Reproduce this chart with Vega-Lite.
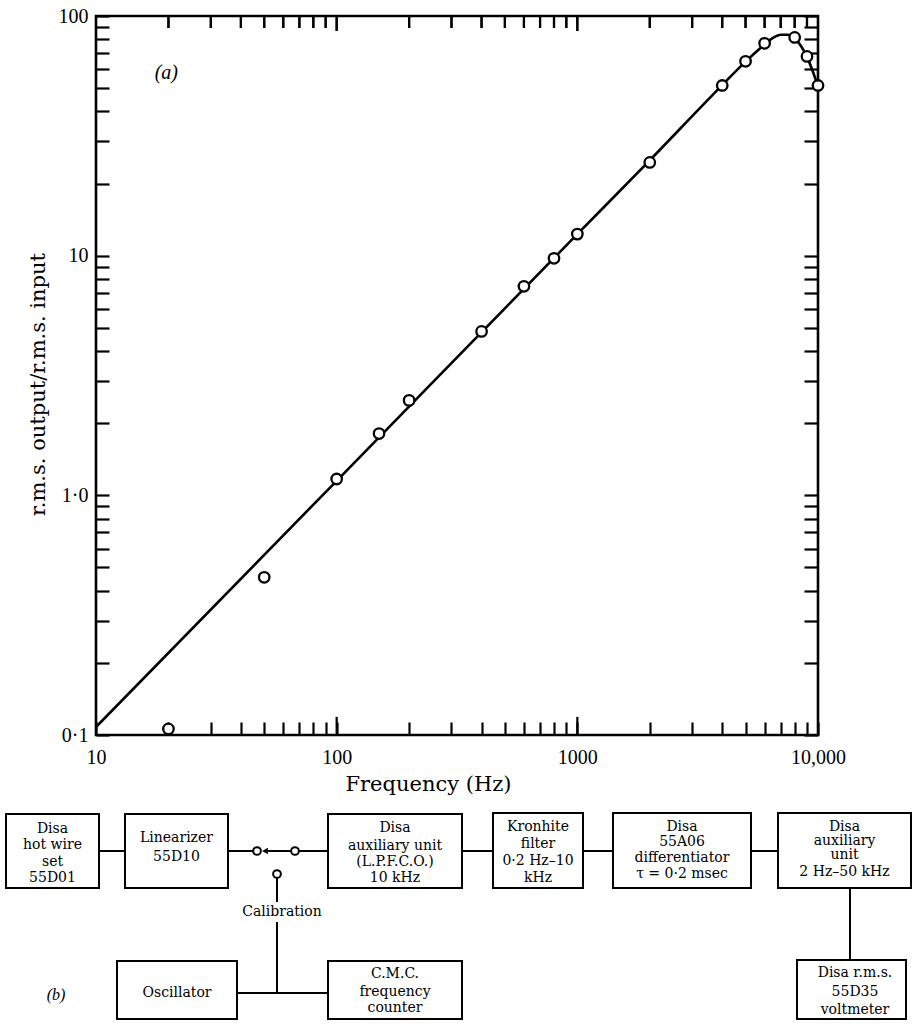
{
  "$schema": "https://vega.github.io/schema/vega-lite/v6.json",
  "background": "white",
  "padding": {"left": 4, "top": 6, "right": 0, "bottom": 0},
  "width": 722,
  "height": 719,
  "config": {
    "view": {"stroke": "black", "strokeWidth": 2.6},
    "font": "DejaVu Serif",
    "axis": {
      "grid": false,
      "domain": false,
      "ticks": true,
      "tickColor": "black",
      "tickWidth": 2.2,
      "labelColor": "black",
      "labelFont": "Liberation Serif",
      "labelFontSize": 20,
      "labelOverlap": false,
      "labelFlush": false,
      "labelBound": false,
      "titleColor": "black",
      "titleFont": "DejaVu Serif",
      "titleFontWeight": "normal",
      "titleFontSize": 21
    }
  },
  "datasets": {
    "curve": [
      {"frequency": 10, "ratio": 0.108},
      {"frequency": 100, "ratio": 1.15},
      {"frequency": 1000, "ratio": 12.3},
      {"frequency": 2000, "ratio": 25.0},
      {"frequency": 4000, "ratio": 51.5},
      {"frequency": 5000, "ratio": 64.5},
      {"frequency": 6000, "ratio": 76},
      {"frequency": 6500, "ratio": 81},
      {"frequency": 7000, "ratio": 83.5},
      {"frequency": 7500, "ratio": 83.5},
      {"frequency": 8000, "ratio": 80.5},
      {"frequency": 8500, "ratio": 75},
      {"frequency": 9000, "ratio": 67.5},
      {"frequency": 9500, "ratio": 59},
      {"frequency": 10000, "ratio": 51}
    ],
    "measured": [
      {"frequency": 20, "ratio": 0.106},
      {"frequency": 50, "ratio": 0.455},
      {"frequency": 100, "ratio": 1.17},
      {"frequency": 150, "ratio": 1.81},
      {"frequency": 200, "ratio": 2.49},
      {"frequency": 400, "ratio": 4.83},
      {"frequency": 600, "ratio": 7.45},
      {"frequency": 800, "ratio": 9.75},
      {"frequency": 1000, "ratio": 12.3},
      {"frequency": 2000, "ratio": 24.5},
      {"frequency": 4000, "ratio": 51.3},
      {"frequency": 5000, "ratio": 64.7},
      {"frequency": 6000, "ratio": 76.9},
      {"frequency": 8000, "ratio": 81.4},
      {"frequency": 9000, "ratio": 67.8},
      {"frequency": 10000, "ratio": 51.3}
    ],
    "minorTicks": [
      {"frequency": 20}, {"frequency": 30}, {"frequency": 40}, {"frequency": 50}, {"frequency": 60}, {"frequency": 70}, {"frequency": 80}, {"frequency": 90},
      {"frequency": 200}, {"frequency": 300}, {"frequency": 400}, {"frequency": 500}, {"frequency": 600}, {"frequency": 700}, {"frequency": 800}, {"frequency": 900},
      {"frequency": 2000}, {"frequency": 3000}, {"frequency": 4000}, {"frequency": 5000}, {"frequency": 6000}, {"frequency": 7000}, {"frequency": 8000}, {"frequency": 9000}
    ],
    "decadeTicks": [
      {"frequency": 100}, {"frequency": 1000}
    ],
    "boxes": [
      {"name": "hot wire set", "x0": 0.8, "x1": 19.4, "y0": 3.8, "y1": 18.6},
      {"name": "linearizer", "x0": 24.6, "x1": 45.2, "y0": 3.8, "y1": 18.6},
      {"name": "lpfco", "x0": 65.2, "x1": 92, "y0": 3.8, "y1": 18.6},
      {"name": "kronhite", "x0": 98.2, "x1": 116.2, "y0": 3.6, "y1": 18.6},
      {"name": "differentiator", "x0": 122.2, "x1": 149.8, "y0": 3.6, "y1": 18.6},
      {"name": "auxiliary", "x0": 155.2, "x1": 181.8, "y0": 3.6, "y1": 18.6},
      {"name": "voltmeter", "x0": 159, "x1": 180.8, "y0": 33, "y1": 44.8},
      {"name": "oscillator", "x0": 23, "x1": 47, "y0": 33.2, "y1": 44.8},
      {"name": "counter", "x0": 65.2, "x1": 92, "y0": 33.2, "y1": 44.8}
    ],
    "wires": [
      {"x0": 19.4, "x1": 24.6, "y0": 11.2, "y1": 11.2},
      {"x0": 45.2, "x1": 50.2, "y0": 11.2, "y1": 11.2},
      {"x0": 53.2, "x1": 57.8, "y0": 11.2, "y1": 11.2},
      {"x0": 59.4, "x1": 65.2, "y0": 11.2, "y1": 11.2},
      {"x0": 55, "x1": 55, "y0": 16.6, "y1": 21.4},
      {"x0": 55, "x1": 55, "y0": 25.4, "y1": 39.6},
      {"x0": 47, "x1": 65.2, "y0": 39.6, "y1": 39.6},
      {"x0": 92, "x1": 98.2, "y0": 11.2, "y1": 11.2},
      {"x0": 116.2, "x1": 122.2, "y0": 11.2, "y1": 11.2},
      {"x0": 149.8, "x1": 155.2, "y0": 11.2, "y1": 11.2},
      {"x0": 169.6, "x1": 169.6, "y0": 18.6, "y1": 33}
    ],
    "contacts": [
      {"x": 51, "y": 11.2},
      {"x": 58.6, "y": 11.2},
      {"x": 55, "y": 15.8}
    ],
    "arrow": [
      {"x": 52.6, "y": 11.2}
    ],
    "labels": [
      {"x": 10.1, "y": 6.8, "text": "Disa"},
      {"x": 10.1, "y": 10.0, "text": "hot wire"},
      {"x": 10.1, "y": 13.4, "text": "set"},
      {"x": 10.1, "y": 16.6, "text": "55D01"},
      {"x": 34.9, "y": 8.6, "text": "Linearizer"},
      {"x": 34.9, "y": 12.4, "text": "55D10"},
      {"x": 78.6, "y": 6.6, "text": "Disa"},
      {"x": 78.6, "y": 10.2, "text": "auxiliary unit"},
      {"x": 78.6, "y": 13.4, "text": "(L.P.F.C.O.)"},
      {"x": 78.6, "y": 16.6, "text": "10 kHz"},
      {"x": 107.2, "y": 6.4, "text": "Kronhite"},
      {"x": 107.2, "y": 9.8, "text": "filter"},
      {"x": 107.2, "y": 13.2, "text": "0·2 Hz–10"},
      {"x": 107.2, "y": 16.6, "text": "kHz"},
      {"x": 136, "y": 6.4, "text": "Disa"},
      {"x": 136, "y": 9.4, "text": "55A06"},
      {"x": 136, "y": 12.6, "text": "differentiator"},
      {"x": 136, "y": 15.8, "text": "τ = 0·2 msec"},
      {"x": 168.5, "y": 6.4, "text": "Disa"},
      {"x": 168.5, "y": 9.2, "text": "auxiliary"},
      {"x": 168.5, "y": 12.0, "text": "unit"},
      {"x": 168.5, "y": 15.4, "text": "2 Hz–50 kHz"},
      {"x": 170.6, "y": 35.6, "text": "Disa r.m.s."},
      {"x": 170.6, "y": 39.4, "text": "55D35"},
      {"x": 170.6, "y": 43.0, "text": "voltmeter"},
      {"x": 35, "y": 39.6, "text": "Oscillator"},
      {"x": 78.6, "y": 35.8, "text": "C.M.C."},
      {"x": 78.6, "y": 39.4, "text": "frequency"},
      {"x": 78.6, "y": 42.6, "text": "counter"},
      {"x": 56, "y": 23.4, "text": "Calibration"}
    ]
  },
  "layer": [
    {
      "data": {"name": "curve"},
      "mark": {"type": "line", "color": "black", "strokeWidth": 2.6, "interpolate": "monotone"},
      "encoding": {
        "x": {
          "field": "frequency", "type": "quantitative",
          "scale": {"type": "log", "domain": [10, 10000], "nice": false},
          "axis": {
            "orient": "bottom",
            "tickSize": 13,
            "offset": -13,
            "title": "Frequency (Hz)",
            "titleX": 332,
            "titlePadding": 6,
            "labelPadding": 12,
            "values": [10, 20, 30, 40, 50, 60, 70, 80, 90, 100, 200, 300, 400, 500, 600, 700, 800, 900, 1000, 2000, 3000, 4000, 5000, 6000, 7000, 8000, 9000, 10000],
            "labelExpr": "datum.value == 10 ? '10' : datum.value == 100 ? '100' : datum.value == 1000 ? '1000' : datum.value == 10000 ? '10,000' : ''"
          }
        },
        "y": {
          "field": "ratio", "type": "quantitative",
          "scale": {"type": "log", "domain": [0.1, 100], "nice": false},
          "axis": {
            "orient": "left",
            "tickSize": 13,
            "offset": -13,
            "title": "r.m.s. output/r.m.s. input",
            "titleY": 368,
            "titlePadding": 10,
            "labelPadding": 8,
            "values": [0.1, 0.2, 0.3, 0.4, 0.5, 0.6, 0.7, 0.8, 0.9, 1, 2, 3, 4, 5, 6, 7, 8, 9, 10, 20, 30, 40, 50, 60, 70, 80, 90, 100],
            "labelExpr": "datum.value == 0.1 ? '0·1' : datum.value == 1 ? '1·0' : datum.value == 10 ? '10' : datum.value == 100 ? '100' : ''"
          }
        }
      }
    },
    {
      "data": {"name": "minorTicks"},
      "mark": {"type": "rule", "color": "black", "strokeWidth": 2.2, "opacity": 1},
      "encoding": {
        "x": {"field": "frequency", "type": "quantitative", "scale": {"type": "log", "domain": [10, 10000], "nice": false}, "axis": null},
        "y": {"datum": 100, "type": "quantitative", "scale": {"type": "log", "domain": [0.1, 100], "nice": false}, "axis": null},
        "y2": {"datum": 89.1}
      }
    },
    {
      "data": {"name": "decadeTicks"},
      "mark": {"type": "rule", "color": "black", "strokeWidth": 2.2, "opacity": 1},
      "encoding": {
        "x": {"field": "frequency", "type": "quantitative", "scale": {"type": "log", "domain": [10, 10000], "nice": false}, "axis": null},
        "y": {"datum": 100, "type": "quantitative", "scale": {"type": "log", "domain": [0.1, 100], "nice": false}, "axis": null},
        "y2": {"datum": 86.6}
      }
    },
    {
      "data": {"name": "minorTicks"},
      "mark": {"type": "tick", "orient": "vertical", "size": 12, "thickness": 2.2, "color": "black", "opacity": 1, "yOffset": 6},
      "encoding": {
        "x": {"field": "frequency", "type": "quantitative", "scale": {"type": "log", "domain": [10, 10000], "nice": false}, "axis": null},
        "y": {"datum": 100, "type": "quantitative", "scale": {"type": "log", "domain": [0.1, 100], "nice": false}, "axis": null}
      }
    },
    {
      "data": {"name": "decadeTicks"},
      "mark": {"type": "tick", "orient": "vertical", "size": 15, "thickness": 2.2, "color": "black", "opacity": 1, "yOffset": 7.5},
      "encoding": {
        "x": {"field": "frequency", "type": "quantitative", "scale": {"type": "log", "domain": [10, 10000], "nice": false}, "axis": null},
        "y": {"datum": 100, "type": "quantitative", "scale": {"type": "log", "domain": [0.1, 100], "nice": false}, "axis": null}
      }
    },
    {
      "data": {"name": "decadeTicks"},
      "mark": {"type": "rule", "color": "black", "strokeWidth": 2.2, "opacity": 1},
      "encoding": {
        "x": {"field": "frequency", "type": "quantitative", "scale": {"type": "log", "domain": [10, 10000], "nice": false}, "axis": null},
        "y": {"datum": 0.1, "type": "quantitative", "scale": {"type": "log", "domain": [0.1, 100], "nice": false}, "axis": null},
        "y2": {"datum": 0.119}
      }
    },
    {
      "data": {"name": "measured"},
      "mark": {"type": "point", "shape": "circle", "filled": true, "fill": "white", "stroke": "black", "strokeWidth": 2.3, "size": 110, "opacity": 1},
      "encoding": {
        "x": {
          "field": "frequency", "type": "quantitative",
          "scale": {"type": "log", "domain": [10, 10000], "nice": false},
          "axis": null
        },
        "y": {
          "field": "ratio", "type": "quantitative",
          "scale": {"type": "log", "domain": [0.1, 100], "nice": false},
          "axis": {
            "orient": "right", "title": null, "labels": false,
            "tickSize": 14, "offset": -14,
            "values": [0.1, 0.2, 0.3, 0.4, 0.5, 0.6, 0.7, 0.8, 0.9, 1, 2, 3, 4, 5, 6, 7, 8, 9, 10, 20, 30, 40, 50, 60, 70, 80, 90, 100]
          }
        }
      }
    },
    {
      "data": {"values": [{"frequency": 19.6, "ratio": 58, "label": "(a)"}]},
      "mark": {"type": "text", "font": "Liberation Serif", "fontStyle": "italic", "fontSize": 20, "align": "center", "baseline": "middle"},
      "encoding": {
        "x": {"field": "frequency", "type": "quantitative", "scale": {"type": "log", "domain": [10, 10000], "nice": false}, "axis": null},
        "y": {"field": "ratio", "type": "quantitative", "scale": {"type": "log", "domain": [0.1, 100], "nice": false}, "axis": null},
        "text": {"field": "label"}
      }
    },
    {
      "data": {"name": "boxes"},
      "mark": {"type": "rect", "fill": "white", "stroke": "black", "strokeWidth": 2},
      "encoding": {
        "x": {"field": "x0", "type": "quantitative", "scale": {"domain": [18.8, 163.2], "nice": false, "zero": false}, "axis": null},
        "x2": {"field": "x1"},
        "y": {"field": "y0", "type": "quantitative", "scale": {"domain": [-155.8, -12], "nice": false, "zero": false, "reverse": true}, "axis": null},
        "y2": {"field": "y1"}
      }
    },
    {
      "data": {"name": "wires"},
      "mark": {"type": "rule", "color": "black", "strokeWidth": 2},
      "encoding": {
        "x": {"field": "x0", "type": "quantitative", "scale": {"domain": [18.8, 163.2], "nice": false, "zero": false}, "axis": null},
        "x2": {"field": "x1"},
        "y": {"field": "y0", "type": "quantitative", "scale": {"domain": [-155.8, -12], "nice": false, "zero": false, "reverse": true}, "axis": null},
        "y2": {"field": "y1"}
      }
    },
    {
      "data": {"name": "contacts"},
      "mark": {"type": "point", "shape": "circle", "filled": true, "fill": "white", "stroke": "black", "strokeWidth": 2, "size": 60, "opacity": 1},
      "encoding": {
        "x": {"field": "x", "type": "quantitative", "scale": {"domain": [18.8, 163.2], "nice": false, "zero": false}, "axis": null},
        "y": {"field": "y", "type": "quantitative", "scale": {"domain": [-155.8, -12], "nice": false, "zero": false, "reverse": true}, "axis": null}
      }
    },
    {
      "data": {"name": "arrow"},
      "mark": {"type": "point", "shape": "triangle-left", "filled": true, "color": "black", "size": 45, "opacity": 1},
      "encoding": {
        "x": {"field": "x", "type": "quantitative", "scale": {"domain": [18.8, 163.2], "nice": false, "zero": false}, "axis": null},
        "y": {"field": "y", "type": "quantitative", "scale": {"domain": [-155.8, -12], "nice": false, "zero": false, "reverse": true}, "axis": null}
      }
    },
    {
      "data": {"name": "labels"},
      "mark": {"type": "text", "font": "DejaVu Serif", "fontSize": 14, "align": "center", "baseline": "middle", "color": "black"},
      "encoding": {
        "x": {"field": "x", "type": "quantitative", "scale": {"domain": [18.8, 163.2], "nice": false, "zero": false}, "axis": null},
        "y": {"field": "y", "type": "quantitative", "scale": {"domain": [-155.8, -12], "nice": false, "zero": false, "reverse": true}, "axis": null},
        "text": {"field": "text"}
      }
    },
    {
      "data": {"values": [{"x": 10.8, "y": 40, "text": "(b)"}]},
      "mark": {"type": "text", "font": "Liberation Serif", "fontStyle": "italic", "fontSize": 16, "align": "center", "baseline": "middle", "color": "black"},
      "encoding": {
        "x": {"field": "x", "type": "quantitative", "scale": {"domain": [18.8, 163.2], "nice": false, "zero": false}, "axis": null},
        "y": {"field": "y", "type": "quantitative", "scale": {"domain": [-155.8, -12], "nice": false, "zero": false, "reverse": true}, "axis": null},
        "text": {"field": "text"}
      }
    }
  ],
  "resolve": {
    "scale": {"x": "independent", "y": "independent"},
    "axis": {"x": "independent", "y": "independent"}
  }
}
